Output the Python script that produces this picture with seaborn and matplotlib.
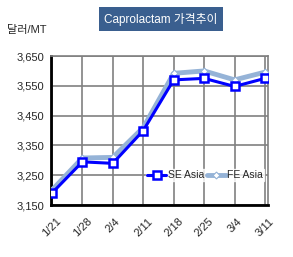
import pandas as pd
import seaborn as sns
import matplotlib.pyplot as plt

# dati
weeks = ['1/21', '1/28', '2/4', '2/11', '2/18', '2/25', '3/4', '3/11']
se_asia = [3190, 3295, 3290, 3400, 3570, 3575, 3548, 3575]
fe_asia = [3200, 3308, 3310, 3410, 3592, 3600, 3570, 3596]
yticks = [3150, 3250, 3350, 3450, 3550, 3650]

df = pd.DataFrame({'pos': range(len(weeks)), 'SE Asia': se_asia, 'FE Asia': fe_asia})

sns.set_style('white')
plt.rcParams['font.family'] = ['Liberation Sans', 'Noto Sans CJK KR']

fig = plt.figure(figsize=(2.93, 2.57), dpi=100)
ax = fig.add_axes([0.174, 0.202, 0.741, 0.58])

# FE Asia sotto, SE Asia sopra
sns.lineplot(data=df, x='pos', y='FE Asia', ax=ax, color='#95b3d7', linewidth=3.5,
             marker='D', markersize=3.5, markerfacecolor='white', markeredgecolor='#95b3d7',
             markeredgewidth=0.8, label='FE Asia', zorder=3)
sns.lineplot(data=df, x='pos', y='SE Asia', ax=ax, color='#0000ff', linewidth=2.2,
             marker='s', markersize=6, markerfacecolor='white', markeredgecolor='#0000ff',
             markeredgewidth=1.8, label='SE Asia', zorder=4)

ax.set_xlim(-0.03, 7.1)
ax.set_ylim(3150, 3650)
ax.set_xticks(range(len(weeks)))
ax.set_xticklabels(weeks, rotation=45, ha='center', fontsize=8)
ax.set_yticks(yticks)
ax.set_yticklabels([f'{v:,}' for v in yticks], fontsize=8)
ax.tick_params(axis='x', length=0, pad=8)
ax.tick_params(axis='y', length=0, pad=5)
ax.set_xlabel('')
ax.set_ylabel('')
ax.grid(True, color='#808080', linewidth=1.2)
ax.set_axisbelow(True)

for side in ['top', 'right']:
    ax.spines[side].set_color('#808080')
    ax.spines[side].set_linewidth(1.2)
for side in ['left', 'bottom']:
    ax.spines[side].set_color('black')
    ax.spines[side].set_linewidth(2)

handles, labels = ax.get_legend_handles_labels()
leg = ax.legend(handles[::-1], labels[::-1], ncol=2, loc='center', bbox_to_anchor=(0.71, 0.2),
                frameon=True, fontsize=7.5, handlelength=1.8, columnspacing=0.3,
                handletextpad=0.15, borderpad=0.1, borderaxespad=0)
leg.get_frame().set_facecolor('white')
leg.get_frame().set_edgecolor('white')
leg.get_frame().set_boxstyle('square', pad=0)

fig.text(0.55, 0.925, 'Caprolactam 가격추이', ha='center', va='center', fontsize=8.5,
         color='white', bbox=dict(boxstyle='square,pad=0.45', facecolor='#3a5f8f', edgecolor='none'))
fig.text(0.025, 0.885, '달러/MT', ha='left', va='center', fontsize=8)

fig.savefig('out.png', dpi=100)
